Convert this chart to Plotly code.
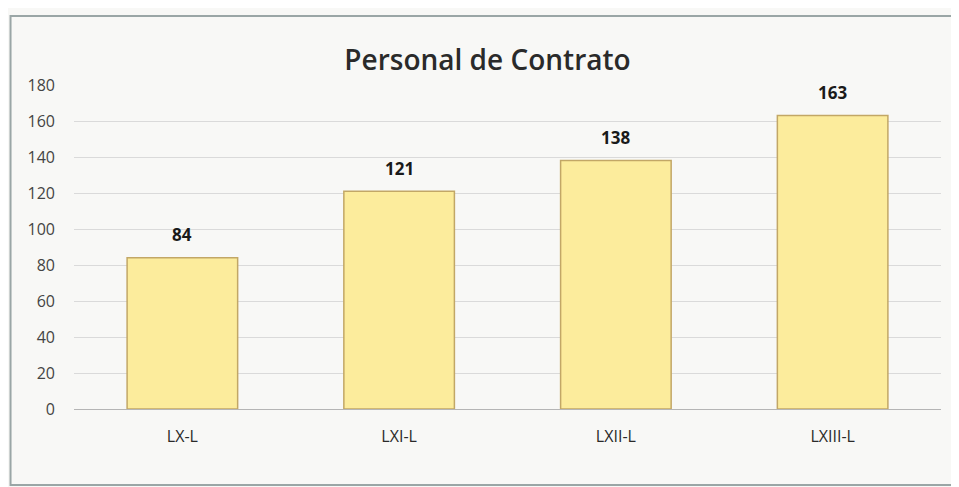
import plotly.graph_objects as go

categories = ["LX-L", "LXI-L", "LXII-L", "LXIII-L"]
values = [84, 121, 138, 163]
y_ticks = [0, 20, 40, 60, 80, 100, 120, 140, 160, 180]

fig = go.Figure()
fig.add_trace(go.Bar(
    x=categories, y=values,
    width=0.51,
    marker=dict(color="#fcec9c", line=dict(color="#c2a766", width=1.5)),
    hoverinfo="x+y",
))

for c, v in zip(categories, values):
    fig.add_annotation(x=c, y=v, text=str(v), showarrow=False,
                       yanchor="middle", yshift=23,
                       font=dict(family="Open Sans", size=17, color="#1a1a1a", weight="bold"))

fig.update_layout(
    width=959, height=487,
    margin=dict(l=66, r=26, t=77, b=86),
    paper_bgcolor="#f8f8f6", plot_bgcolor="#f8f8f6",
    showlegend=False,
    title=dict(text="Personal de Contrato", x=0.5, xanchor="center", y=0.893, yanchor="middle",
               font=dict(family="Open Sans", size=28, color="#2a2a2a", weight=600)),
    xaxis=dict(showgrid=False, showline=False, ticks="",
               tickfont=dict(family="Open Sans", size=16, color="#2a2a2a"),
               ticklabelstandoff=16),
    yaxis=dict(range=[0, 180], tickvals=y_ticks, showgrid=True, gridcolor="#dadada",
               zeroline=True, zerolinecolor="#b5b5b5", zerolinewidth=1.2,
               tickfont=dict(family="Open Sans", size=16, color="#444444"),
               ticklabelstandoff=18),
    bargap=0.49,
)

fig.add_shape(type="rect", xref="paper", yref="paper",
              x0=-0.0732, x1=1.05, y0=-0.2346, y1=1.213,
              line=dict(color="#9aa6a6", width=2), fillcolor="rgba(0,0,0,0)", layer="below")

fig.write_html("out.html")
